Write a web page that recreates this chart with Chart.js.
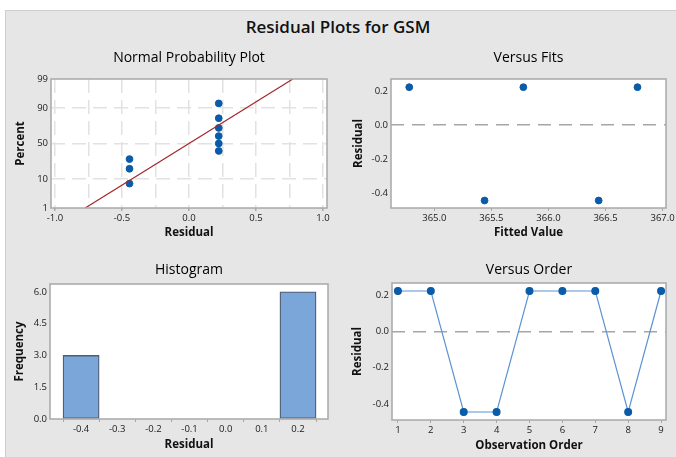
<!DOCTYPE html>
<html>
<head>
<meta charset="utf-8">
<script src="https://cdn.jsdelivr.net/npm/chart.js@4.4.1/dist/chart.umd.min.js"></script>
<style>
  body { margin: 0; width: 676px; height: 457px; background: #fff; position: relative; overflow: hidden; font-family: "Open Sans", sans-serif; }
  #frame { position: absolute; left: 5px; top: 10px; width: 671px; height: 447px; background: #e6e6e6; border-top: 1px solid #cdcdcd; border-left: 1px solid #cdcdcd; box-sizing: border-box; }
  #title { position: absolute; left: 0; width: 676px; top: 15px; text-align: center; font-size: 17px; font-weight: 600; color: #111; }
  canvas { position: absolute; }
</style>
</head>
<body>
<div id="frame"></div>
<div id="title">Residual Plots for GSM</div>
<canvas id="npp" width="333" height="212" style="left:5px;top:40px"></canvas>
<canvas id="fits" width="338" height="212" style="left:338px;top:40px"></canvas>
<canvas id="hist" width="333" height="205" style="left:5px;top:252px"></canvas>
<canvas id="order" width="338" height="205" style="left:338px;top:252px"></canvas>
<script>
// residuals, sorted, and their plotting percentages (normal probability plot)
const sortedResid = [-0.444, -0.444, -0.444, 0.222, 0.222, 0.222, 0.222, 0.222, 0.222];
const sortedPct = [7.4, 18.1, 28.7, 39.4, 50, 60.6, 71.3, 81.9, 92.6];
const fitLineX = [-0.775, 0.775];
const fitLinePct = [1, 99];
const pctTicks = [1, 10, 50, 90, 99];
const nppXTicks = [-1.0, -0.75, -0.5, -0.25, 0, 0.25, 0.5, 0.75, 1.0];

// versus fits
const fittedValues = [364.78, 365.44, 365.78, 366.44, 366.78];
const fitsResid = [0.222, -0.444, 0.222, -0.444, 0.222];
const fitsXTicks = [365.0, 365.5, 366.0, 366.5, 367.0];
const residTicks = [-0.4, -0.2, 0.0, 0.2];

// histogram
const binCenters = [-0.4, -0.3, -0.2, -0.1, 0.0, 0.1, 0.2];
const binFreq = [3, 0, 0, 0, 0, 0, 6];
const freqTicks = [0, 1.5, 3.0, 4.5, 6.0];

// versus order
const obsOrder = [1, 2, 3, 4, 5, 6, 7, 8, 9];
const orderResid = [0.222, 0.222, -0.444, -0.444, 0.222, 0.222, 0.222, -0.444, 0.222];

const BLUE = '#0b5ca8';
const FONT = "'Open Sans', sans-serif";
Chart.defaults.font.family = FONT;
Chart.defaults.color = '#1a1a1a';
Chart.defaults.animation = false;

// normal quantile, used for the probability axis
function probit(pct) {
  const p = pct / 100, q = p < 0.5 ? p : 1 - p;
  const t = Math.sqrt(-2 * Math.log(q));
  const z = t - (2.515517 + 0.802853 * t + 0.010328 * t * t) /
    (1 + 1.432788 * t + 0.189269 * t * t + 0.001308 * t * t * t);
  return p < 0.5 ? -z : z;
}

// white plot area + grey frame
const panelFrame = {
  id: 'panelFrame',
  beforeDraw(chart) {
    const a = chart.chartArea, ctx = chart.ctx;
    ctx.save();
    ctx.fillStyle = '#ffffff';
    ctx.fillRect(a.left, a.top, a.right - a.left, a.bottom - a.top);
    ctx.restore();
  },
  afterDraw(chart) {
    const a = chart.chartArea, ctx = chart.ctx;
    ctx.save();
    ctx.strokeStyle = '#a8a8a8';
    ctx.lineWidth = 1.5;
    ctx.strokeRect(a.left, a.top, a.right - a.left, a.bottom - a.top);
    ctx.restore();
  }
};

function fixSize(size) {
  return function (scale) {
    if (scale.isHorizontal()) {
      scale.height = size; scale.paddingLeft = 0; scale.paddingRight = 0;
    } else {
      scale.width = size; scale.paddingTop = 0; scale.paddingBottom = 0;
    }
  };
}
function useTicks(values) {
  return function (scale) { scale.ticks = values.map(v => ({ value: v })); };
}

function titleOpts(text, padTop, padBottom) {
  return {
    display: true, text: text, fullSize: false, color: '#000',
    font: { size: 14, weight: 'normal' },
    padding: { top: padTop, bottom: padBottom }
  };
}

function xAxis(label, min, max, ticks, height, gap, fmt, extra) {
  return Object.assign({
    type: 'linear', position: 'bottom', min: min, max: max,
    afterFit: fixSize(height), afterBuildTicks: useTicks(ticks),
    grid: { drawOnChartArea: false, tickLength: 3, tickColor: '#a8a8a8' },
    border: { display: false },
    ticks: { font: { size: 9.5 }, padding: 2, maxRotation: 0, autoSkip: false, callback: fmt },
    title: { display: true, text: label, color: '#111', font: { size: 11.5, weight: 'bold' }, padding: { top: 0, bottom: height - gap - 6.9 } }
  }, extra || {});
}

function yAxis(label, min, max, ticks, width, titleX, fmt, extra) {
  return Object.assign({
    type: 'linear', position: 'left', min: min, max: max,
    afterFit: fixSize(width), afterBuildTicks: useTicks(ticks),
    grid: { drawOnChartArea: false, drawTicks: false },
    border: { display: false },
    ticks: { font: { size: 9.5 }, padding: 3, autoSkip: false, callback: fmt },
    title: { display: true, text: label, color: '#111', font: { size: 11.5, weight: 'bold' }, padding: { top: titleX - 6.9, bottom: 0 } }
  }, extra || {});
}

const fmt1 = v => v.toFixed(1);

// Normal Probability Plot
new Chart(document.getElementById('npp'), {
  type: 'scatter',
  data: {
    datasets: [{
      type: 'line',
      data: fitLineX.map((x, i) => ({ x: x, y: probit(fitLinePct[i]) })),
      borderColor: '#a3282b', borderWidth: 1.2, pointRadius: 0
    }, {
      data: sortedResid.map((x, i) => ({ x: x, y: probit(sortedPct[i]) })),
      backgroundColor: BLUE, borderColor: BLUE, pointRadius: 3.4
    }]
  },
  options: {
    responsive: false,
    layout: { padding: { left: 0, right: 11, top: 0, bottom: 0 } },
    plugins: { legend: { display: false }, tooltip: { enabled: false }, title: titleOpts('Normal Probability Plot', 9.6, 12.6) },
    scales: {
      x: xAxis('Residual', -1.03, 1.03, nppXTicks, 44, 25, v => (v * 2) % 1 === 0 ? v.toFixed(1) : '', {
        grid: {
          drawOnChartArea: true, tickLength: 3, color: '#e2e2e2', lineWidth: 1.5,
          tickColor: c => (c.tick && (c.tick.value * 2) % 1 === 0) ? '#a8a8a8' : 'rgba(0,0,0,0)'
        },
        border: { display: false, dash: [14, 7] }
      }),
      y: yAxis('Percent', probit(1), probit(99), pctTicks.map(probit), 46, 16, (v, i) => String(pctTicks[i]), {
        grid: {
          drawOnChartArea: true, drawTicks: false, lineWidth: 1.5,
          color: c => (c.index > 0 && c.index < pctTicks.length - 1) ? '#e2e2e2' : 'rgba(0,0,0,0)'
        },
        border: { display: false, dash: [14, 7] }
      })
    }
  },
  plugins: [panelFrame]
});

// zero reference line for the residual axes
const zeroGrid = {
  grid: {
    drawOnChartArea: true, drawTicks: false, lineWidth: 1.5,
    color: c => (c.tick && c.tick.value === 0) ? '#a6a6a6' : 'rgba(0,0,0,0)'
  },
  border: { display: false, dash: [13, 8] }
};

// Versus Fits
new Chart(document.getElementById('fits'), {
  type: 'scatter',
  data: {
    datasets: [{
      data: fittedValues.map((x, i) => ({ x: x, y: fitsResid[i] })),
      backgroundColor: BLUE, borderColor: BLUE, pointRadius: 3.4
    }]
  },
  options: {
    responsive: false,
    layout: { padding: { left: 0, right: 10, top: 0, bottom: 0 } },
    plugins: { legend: { display: false }, tooltip: { enabled: false }, title: titleOpts('Versus Fits', 9.6, 12.6) },
    scales: {
      x: xAxis('Fitted Value', 364.62, 367.03, fitsXTicks, 44, 25, fmt1),
      y: yAxis('Residual', -0.488, 0.27, residTicks, 53, 21, fmt1, zeroGrid)
    }
  },
  plugins: [panelFrame]
});

// Histogram
new Chart(document.getElementById('hist'), {
  type: 'bar',
  data: {
    datasets: [{
      data: binCenters.map((x, i) => ({ x: x, y: binFreq[i] })),
      backgroundColor: '#7ba6d9', borderColor: '#4f5d70', borderWidth: 1.3,
      barPercentage: 1, categoryPercentage: 1, borderSkipped: false
    }]
  },
  options: {
    responsive: false,
    layout: { padding: { left: 0, right: 10, top: 0, bottom: 0 } },
    plugins: { legend: { display: false }, tooltip: { enabled: false }, title: titleOpts('Histogram', 9.6, 5.6) },
    scales: {
      x: xAxis('Residual', -0.486, 0.283, binCenters, 38, 26, fmt1, { offset: false }),
      y: yAxis('Frequency', 0, 6.37, freqTicks, 45, 15, fmt1)
    }
  },
  plugins: [panelFrame]
});

// Versus Order
new Chart(document.getElementById('order'), {
  type: 'line',
  data: {
    datasets: [{
      data: obsOrder.map((x, i) => ({ x: x, y: orderResid[i] })),
      borderColor: '#5b93d3', borderWidth: 1.2,
      backgroundColor: BLUE, pointBorderColor: BLUE, pointRadius: 3.4, tension: 0
    }]
  },
  options: {
    responsive: false,
    layout: { padding: { left: 0, right: 10, top: 0, bottom: 0 } },
    plugins: { legend: { display: false }, tooltip: { enabled: false }, title: titleOpts('Versus Order', 9.6, 4.6) },
    scales: {
      x: xAxis('Observation Order', 0.82, 9.15, obsOrder, 37, 26, v => String(v)),
      y: yAxis('Residual', -0.488, 0.266, residTicks, 54, 20, fmt1, zeroGrid)
    }
  },
  plugins: [panelFrame]
});
</script>
</body>
</html>
